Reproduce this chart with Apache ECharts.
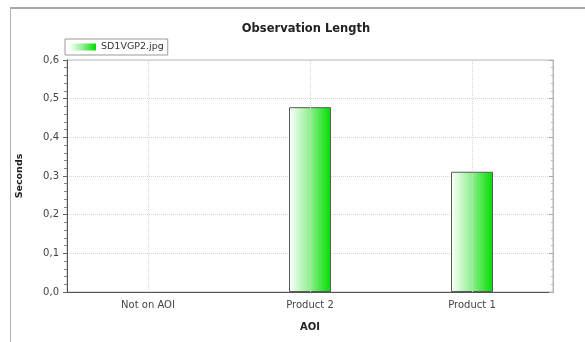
<!DOCTYPE html>
<html>
<head>
<meta charset="utf-8">
<script src="https://cdn.jsdelivr.net/npm/echarts@6/dist/echarts.min.js"></script>
<style>html,body{margin:0;padding:0;background:#fff}#c{width:585px;height:342px}</style>
</head>
<body>
<div id="c"></div>
<script>
const categories = ['Not on AOI', 'Product 2', 'Product 1'];
const seriesName = 'SD1VGP2.jpg';
const values = [0, 0.478, 0.311];
const yMin = 0, yMax = 0.6, yStep = 0.1;

const chart = echarts.init(document.getElementById('c'), null, {renderer: 'canvas'});
const font = 'DejaVu Sans, Verdana, sans-serif';
const fmt = v => v.toFixed(1).replace('.', ',');
const barGradient = () => new echarts.graphic.LinearGradient(0, 0, 1, 0, [
  {offset: 0, color: '#ffffff'},
  {offset: 0.5, color: '#8ef08e'},
  {offset: 1, color: '#00dd00'}
]);

chart.setOption({
  animation: false,
  backgroundColor: '#fff',
  graphic: [
    {type: 'line', shape: {x1: 10, y1: 8, x2: 585, y2: 8}, style: {stroke: '#a8a8a8', lineWidth: 2}},
    {type: 'line', shape: {x1: 10.5, y1: 8, x2: 10.5, y2: 342}, style: {stroke: '#b0b0b0', lineWidth: 1}}
  ],
  title: {
    text: 'Observation Length', left: 301, top: 18, textAlign: 'center',
    textStyle: {fontFamily: font, fontSize: 11.5, fontWeight: 'bold', color: '#222'}
  },
  legend: {
    left: 65, top: 39, padding: [3, 4], itemGap: 4,
    borderColor: '#999', borderWidth: 1,
    itemWidth: 27, itemHeight: 7,
    textStyle: {fontFamily: font, fontSize: 9.5, color: '#333'},
    data: [{name: seriesName, icon: 'rect', itemStyle: {borderWidth: 0}}]
  },
  grid: {left: 67, right: 32, top: 60, bottom: 50, show: true, borderColor: '#b8b8b8', borderWidth: 1},
  xAxis: {
    type: 'category', data: categories,
    name: 'AOI', nameLocation: 'middle', nameGap: 30,
    nameTextStyle: {fontFamily: font, fontSize: 10, fontWeight: 'bold', color: '#222'},
    axisLine: {lineStyle: {color: '#555', width: 1}},
    axisTick: {alignWithLabel: true, length: 4, lineStyle: {color: '#777'}},
    axisLabel: {fontFamily: font, fontSize: 10, color: '#444', margin: 8},
    splitLine: {show: false}
  },
  yAxis: [{
    type: 'value', min: yMin, max: yMax, interval: yStep,
    name: 'Seconds', nameLocation: 'middle', nameGap: 42,
    nameTextStyle: {fontFamily: font, fontSize: 9.5, fontWeight: 'bold', color: '#222'},
    axisLine: {show: true, lineStyle: {color: '#555'}},
    axisTick: {show: true, length: 4, lineStyle: {color: '#666'}},
    minorTick: {show: true, splitNumber: 5, length: 3, lineStyle: {color: '#888'}},
    axisLabel: {fontFamily: font, fontSize: 10, color: '#444', margin: 8, formatter: fmt},
    splitLine: {show: true, lineStyle: {color: '#d6d6d6', type: 'dotted'}}
  }, {
    type: 'value', min: yMin, max: yMax, interval: yStep, position: 'right',
    axisLine: {show: true, lineStyle: {color: '#b8b8b8'}},
    axisTick: {show: true, inside: true, length: 4, lineStyle: {color: '#aaa'}},
    minorTick: {show: true, splitNumber: 5, length: 2, lineStyle: {color: '#bbb'}},
    axisLabel: {show: false},
    splitLine: {show: false}
  }],
  series: [{
    name: seriesName, type: 'bar', barWidth: 42,
    data: values.map(v => v === 0 ? {value: v, itemStyle: {borderWidth: 0, opacity: 0}} : v),
    itemStyle: {color: barGradient(), borderColor: '#5a5a5a', borderWidth: 1},
    markLine: {
      silent: true, symbol: 'none', label: {show: false},
      lineStyle: {color: '#d6d6d6', type: 'dotted', width: 1},
      data: categories.map(c => ({xAxis: c}))
    }
  }]
});
</script>
</body>
</html>
